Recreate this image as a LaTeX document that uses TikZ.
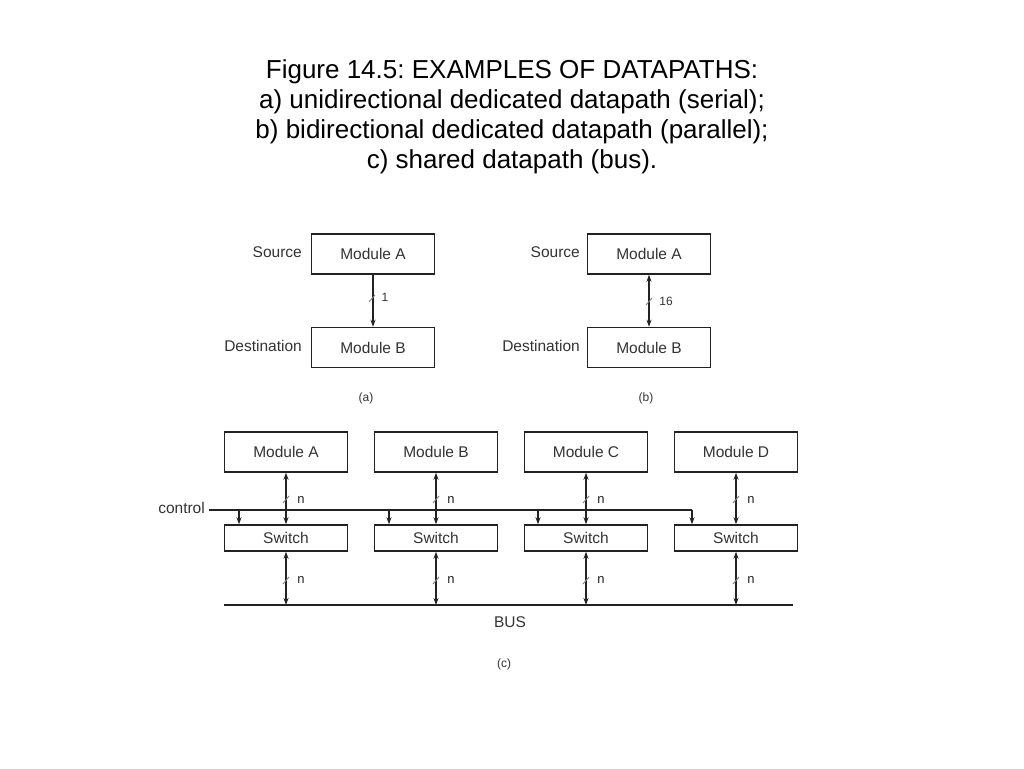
\documentclass[tikz,border=0pt]{standalone}
\usepackage{fontspec}
\setmainfont{Liberation Sans}
\usetikzlibrary{arrows.meta}
\frenchspacing
\definecolor{ink}{HTML}{222222}
\definecolor{txt}{HTML}{333333}
\tikzset{
  box/.style={draw=ink, line width=1.5pt, minimum width=123pt, minimum height=40pt, inner sep=0pt, font=\fontsize{15.5}{17}\selectfont, text=txt},
  swbox/.style={box, minimum height=26pt},
  lab/.style={font=\fontsize{15.5}{17}\selectfont, text=txt, inner sep=0pt},
  small/.style={font=\fontsize{12}{14}\selectfont, text=txt, inner sep=0pt},
  nlab/.style={font=\fontsize{13}{14}\selectfont, text=ink, inner sep=0pt},
  wire/.style={draw=ink, line width=1.6pt},
  tip/.style={-{Stealth[length=7pt,width=5pt]}},
  tips/.style={{Stealth[length=7pt,width=5pt]}-{Stealth[length=7pt,width=5pt]}},
  tick/.style={draw=gray, line width=0.9pt},
}
\begin{document}
\begin{tikzpicture}[x=1pt,y=-1pt]
\useasboundingbox (0,0) rectangle (1024,768);
% title
\node[font=\fontsize{26}{30}\selectfont, align=center, text=black, inner sep=0pt] (title) at (512,117)
 {Figure 14.5: EXAMPLES OF DATAPATHS:\\
  a) unidirectional dedicated datapath (serial);\\
  b) bidirectional dedicated datapath (parallel);\\
  c) shared datapath (bus).};
% (a)
\node[box] (aA) at (373,254) {Module A};
\node[box] (aB) at (373,347.5) {Module B};
\node[lab, anchor=east] (aS) at (302,252) {Source};
\node[lab, anchor=east] (aD) at (302,346) {Destination};
\draw[wire, tip] (aA) -- (aB);
\draw[tick] (369,302) -- (375,295);
\node[small] (a1) at (385,297) {1};
\node[small] (acap) at (366,398) {(a)};
% (b)
\node[box] (bA) at (649,254) {Module A};
\node[box] (bB) at (649,347.5) {Module B};
\node[lab, anchor=east] (bS) at (580,252) {Source};
\node[lab, anchor=east] (bD) at (580,346) {Destination};
\draw[wire, tips] (bA) -- (bB);
\draw[tick] (646,305) -- (652,298);
\node[small] (b16) at (666,301) {16};
\node[small] (bcap) at (646,398) {(b)};
% (c)
\foreach \n/\x/\t in {A/286/Module A, B/436/Module B, C/586/Module C, D/736/Module D}{
  \node[box] (m\n) at (\x,452) {\t};
  \node[swbox] (s\n) at (\x,538) {Switch};
  \draw[wire, tips] (m\n) -- (m\n |- s\n.north);
  \draw[tick] (\x-3,503) -- (\x+3,496);
  \node[nlab] (n1\n) at (\x+15,500) {n};
  \coordinate (b\n) at (\x,605);
  \draw[wire, tips] (s\n) -- (b\n);
  \draw[tick] (\x-3,584) -- (\x+3,577);
  \node[nlab] (n2\n) at (\x+15,580) {n};
}
\node[lab, anchor=east] (ctl) at (205,508) {control};
\coordinate (c0) at (209,510);
\coordinate (c4) at (692,510);
\draw[wire] (c0) -- (c4);
\draw[wire, tip] (c4) -- (c4 |- sD.north);
\foreach \n/\x in {A/239, B/389, C/538}{
  \coordinate (cb\n) at (\x,510);
  \draw[wire, tip] (cb\n) -- (cb\n |- s\n.north);
}
\coordinate (busL) at (224,605);
\coordinate (busR) at (793,605);
\draw[wire] (busL) -- (busR);
\node[lab] (bus) at (510,622) {BUS};
\node[small] (ccap) at (504,664) {(c)};
\end{tikzpicture}
\end{document}
